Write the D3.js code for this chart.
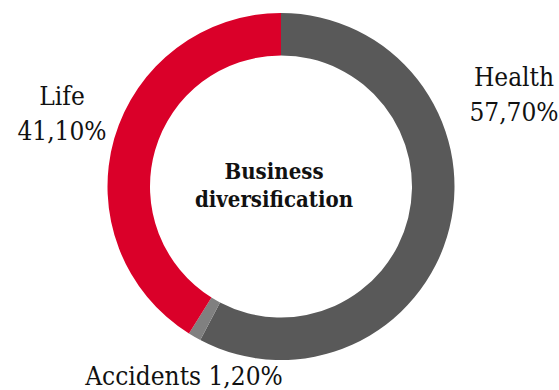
<!DOCTYPE html>
<html><head><meta charset="utf-8">
<script src="https://cdn.jsdelivr.net/npm/d3@7"></script>
<style>
html,body{margin:0;padding:0;background:#fff;}
svg{display:block;}
text{font-family:"DejaVu Serif Condensed","DejaVu Serif",serif;font-stretch:condensed;}
</style></head>
<body>
<script>
const categories = ["Health", "Accidents", "Life"];
const values = [57.70, 1.20, 41.10];
const valueLabels = ["57,70%", "1,20%", "41,10%"];
const colors = ["#595959", "#808080", "#da0029"];
const centerTitle = ["Business", "diversification"];

const W = 559, H = 390;
const cx = 281, cy = 186.5, rOuter = 173.5, rInner = 131;

const svg = d3.select("body").append("svg").attr("width", W).attr("height", H);
const g = svg.append("g").attr("transform", `translate(${cx},${cy})`);

const pie = d3.pie().sort(null).value(d => d.v);
const arcs = pie(categories.map((c, i) => ({c, v: values[i], lab: valueLabels[i], col: colors[i]})));
const arc = d3.arc().innerRadius(rInner).outerRadius(rOuter);

g.selectAll("path").data(arcs).join("path")
  .attr("d", arc)
  .attr("fill", d => d.data.col);

// center title
g.append("text").attr("text-anchor", "middle").attr("font-weight", "bold")
  .attr("font-size", 22).attr("fill", "#111")
  .selectAll("tspan").data(centerTitle).join("tspan")
  .attr("x", -7).attr("y", (d, i) => -7.5 + i * 28).text(d => d);

// labels (layout config)
const labelLayout = {
  "Health": {x: 514, y: 86, lines: 2},
  "Life": {x: 62, y: 105, lines: 2},
  "Accidents": {x: 184, y: 385, lines: 1}
};
arcs.forEach(a => {
  const L = labelLayout[a.data.c];
  const t = svg.append("text").attr("text-anchor", "middle").attr("font-size", 26).attr("fill", "#111");
  if (L.lines === 2) {
    t.append("tspan").attr("x", L.x).attr("y", L.y).text(a.data.c);
    t.append("tspan").attr("x", L.x).attr("y", L.y + 35).text(a.data.lab);
  } else {
    t.attr("x", L.x).attr("y", L.y).text(a.data.c + " " + a.data.lab);
  }
});
</script>
</body></html>
